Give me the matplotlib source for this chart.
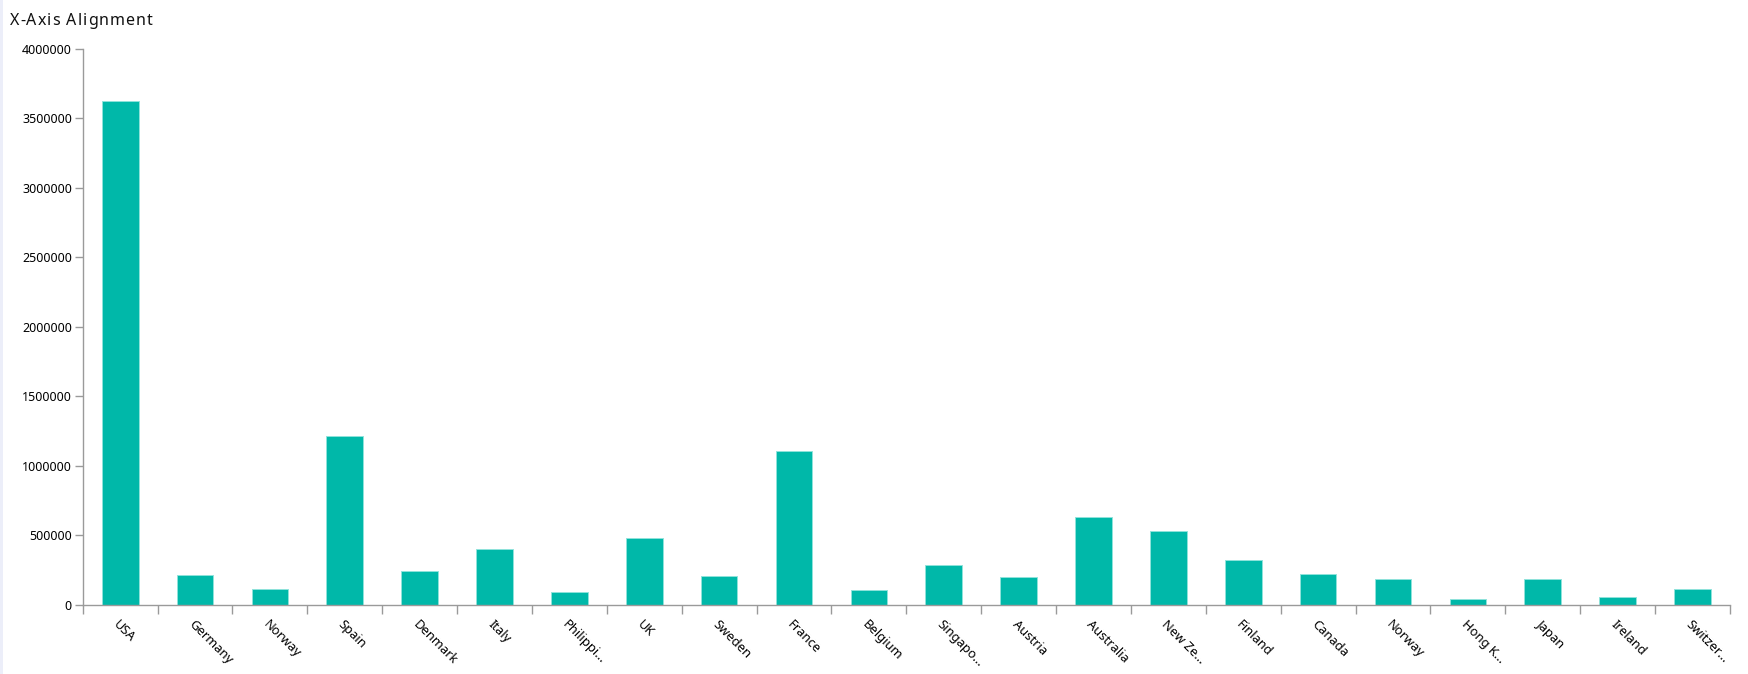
import matplotlib
matplotlib.use('Agg')

import numpy as np
import matplotlib.pyplot as plt
from matplotlib.patches import Rectangle

countries = ['USA', 'Germany', 'Norway', 'Spain', 'Denmark', 'Italy',
             'Philippi...', 'UK', 'Sweden', 'France', 'Belgium', 'Singapo...',
             'Austria', 'Australia', 'New Ze...', 'Finland', 'Canada', 'Norway',
             'Hong K...', 'Japan', 'Ireland', 'Switzer...']
values = [3625000, 218000, 113000, 1213000, 242000, 402000,
          93000, 480000, 208000, 1108000, 107000, 290000,
          201000, 631000, 535000, 327000, 223000, 187000,
          46000, 187000, 55000, 115000]
yticks = [0, 500000, 1000000, 1500000, 2000000, 2500000, 3000000, 3500000, 4000000]
title = 'X-Axis Alignment'

plt.rcParams['font.family'] = ['Noto Sans', 'DejaVu Sans']

axis_col = '#9a9a9a'
bar_col = '#00b8a9'

fig = plt.figure(figsize=(17.49, 6.74), dpi=100)
fig.patches.append(Rectangle((0, 0), 3 / 1749, 1, transform=fig.transFigure,
                             facecolor='#eceef9', edgecolor='none'))
ax = fig.add_axes([0.0473, 0.1024, 0.9418, 0.8249])

x = np.arange(len(countries))
ax.bar(x, values, width=0.49, color=bar_col, edgecolor='#8fe3db', linewidth=0.7, zorder=2)

ax.set_xlim(-0.5, len(countries) - 0.5)
ax.set_ylim(0, 4000000)

# boundary ticks (major), labels at category centres (minor)
ax.set_xticks(np.arange(len(countries) + 1) - 0.5)
ax.set_xticklabels([])
ax.set_xticks(x, minor=True)
ax.set_xticklabels(countries, minor=True, rotation=-45, ha='left',
                   rotation_mode='anchor', fontsize=9.3)
ax.tick_params(axis='x', which='major', length=6.5, width=1, color=axis_col, direction='out')
ax.tick_params(axis='x', which='minor', length=0, pad=9)

ax.set_yticks(yticks)
ax.set_yticklabels([str(v) for v in yticks], fontsize=9)
ax.tick_params(axis='y', length=5.8, width=1, color=axis_col, pad=2)

for s in ('top', 'right'):
    ax.spines[s].set_visible(False)
for s in ('left', 'bottom'):
    ax.spines[s].set_color(axis_col)
    ax.spines[s].set_linewidth(1)

# title with letter spacing: place each char by the width of the prefix
fig.canvas.draw()
r = fig.canvas.get_renderer()
x0 = 10.0
for i, ch in enumerate(title):
    if i == 0:
        off = 0.0
    else:
        probe = fig.text(0, 0, title[:i] + '|', fontsize=11.5)
        bar_w = fig.text(0, 0, '|', fontsize=11.5)
        off = probe.get_window_extent(r).width - bar_w.get_window_extent(r).width
        probe.remove()
        bar_w.remove()
    fig.text((x0 + off + 1.0 * i) / 1749, 1 - 25 / 674, ch, fontsize=11.5,
             ha='left', va='baseline', color='#111111')

fig.savefig('out.png', dpi=100, facecolor='white')
